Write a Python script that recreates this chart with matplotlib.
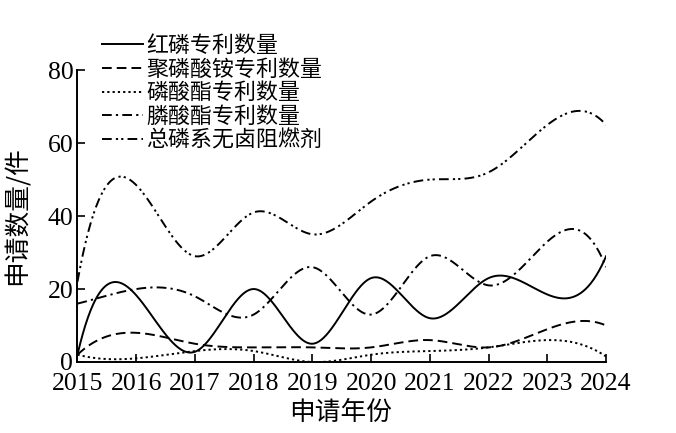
import numpy as np
import matplotlib
matplotlib.use("Agg")
import matplotlib.pyplot as plt

# 字体: 数字用衬线体, 中文用 Noto Sans CJK
plt.rcParams["font.family"] = ["Liberation Serif", "Noto Sans CJK SC", "DejaVu Sans"]
plt.rcParams["axes.unicode_minus"] = False
plt.rcParams["lines.scale_dashes"] = False

years = [2015, 2016, 2017, 2018, 2019, 2020, 2021, 2022, 2023, 2024]
red_p = [2, 18.3, 2.8, 20, 5, 23, 12, 23, 18.5, 29]
app = [2, 8, 5, 4, 4, 4, 6, 4, 9, 10]
phosphate = [2, 1, 3, 3, 0, 2, 3, 4, 6, 1.5]
phosphonate = [16, 20, 18, 13, 26, 13, 29, 21, 33, 26]
total = [22, 48.5, 29, 41, 35, 44, 50, 52, 65, 65]

labels = ["红磷专利数量", "聚磷酸铵专利数量", "磷酸酯专利数量", "膦酸酯专利数量", "总磷系无卤阻燃剂"]
series = [red_p, app, phosphate, phosphonate, total]
styles = [
    "-",
    (0, (7, 3.6)),
    (0, (1.6, 2.2)),
    (0, (7, 3, 1.6, 3)),
    (0, (7, 3, 1.6, 2.2, 1.6, 3)),
]


# 三次样条 (not-a-knot 端点条件)
def spline(x, y, xs):
    x = np.asarray(x, float)
    y = np.asarray(y, float)
    n = len(x)
    h = np.diff(x)
    A = np.zeros((n, n))
    b = np.zeros(n)
    # 端点: 三阶导数在第二个和倒数第二个节点连续
    A[0, 0] = h[1]
    A[0, 1] = -(h[0] + h[1])
    A[0, 2] = h[0]
    A[-1, -3] = h[-1]
    A[-1, -2] = -(h[-2] + h[-1])
    A[-1, -1] = h[-2]
    for i in range(1, n - 1):
        A[i, i - 1] = h[i - 1]
        A[i, i] = 2 * (h[i - 1] + h[i])
        A[i, i + 1] = h[i]
        b[i] = 6 * ((y[i + 1] - y[i]) / h[i] - (y[i] - y[i - 1]) / h[i - 1])
    M = np.linalg.solve(A, b)
    idx = np.clip(np.searchsorted(x, xs) - 1, 0, n - 2)
    x0, x1 = x[idx], x[idx + 1]
    hh = x1 - x0
    t0 = x1 - xs
    t1 = xs - x0
    return (M[idx] * t0**3 / (6 * hh) + M[idx + 1] * t1**3 / (6 * hh)
            + (y[idx] / hh - M[idx] * hh / 6) * t0
            + (y[idx + 1] / hh - M[idx + 1] * hh / 6) * t1)


fig = plt.figure(figsize=(6.76, 4.33), dpi=100)
ax = fig.add_axes([0.1146, 0.164, 0.782, 0.674])

xs = np.linspace(years[0], years[-1], 600)
for vals, lab, ls in zip(series, labels, styles):
    ax.plot(xs, spline(years, vals, xs), color="black", lw=1.4,
            linestyle=ls, label=lab)

ax.set_xlim(2015, 2024)
ax.set_ylim(0, 80)
ax.set_xticks(years)
ax.set_yticks([0, 20, 40, 60, 80])
for s in ["top", "right"]:
    ax.spines[s].set_visible(False)
for s in ["left", "bottom"]:
    ax.spines[s].set_linewidth(1.4)
ax.tick_params(direction="in", length=6, width=1.2, labelsize=18.5)
ax.tick_params(axis="x", pad=8)
ax.tick_params(axis="y", pad=3)

ax.set_xlabel("申请年份", fontsize=18.5, family=["Noto Sans CJK SC"], va="center")
ax.set_ylabel("申请数量/件", fontsize=18.5, family=["Noto Sans CJK SC", "DejaVu Sans"],
              va="center")
ax.xaxis.set_label_coords(0.497, -0.175)
ax.yaxis.set_label_coords(-0.113, 0.503)

leg = ax.legend(loc="upper left", bbox_to_anchor=(0.03, 1.15), frameon=False,
                prop={"family": "Noto Sans CJK SC", "size": 15.8},
                handlelength=1.85, handletextpad=0.15, labelspacing=0.07,
                borderaxespad=0)

fig.savefig("out.png", dpi=100)
